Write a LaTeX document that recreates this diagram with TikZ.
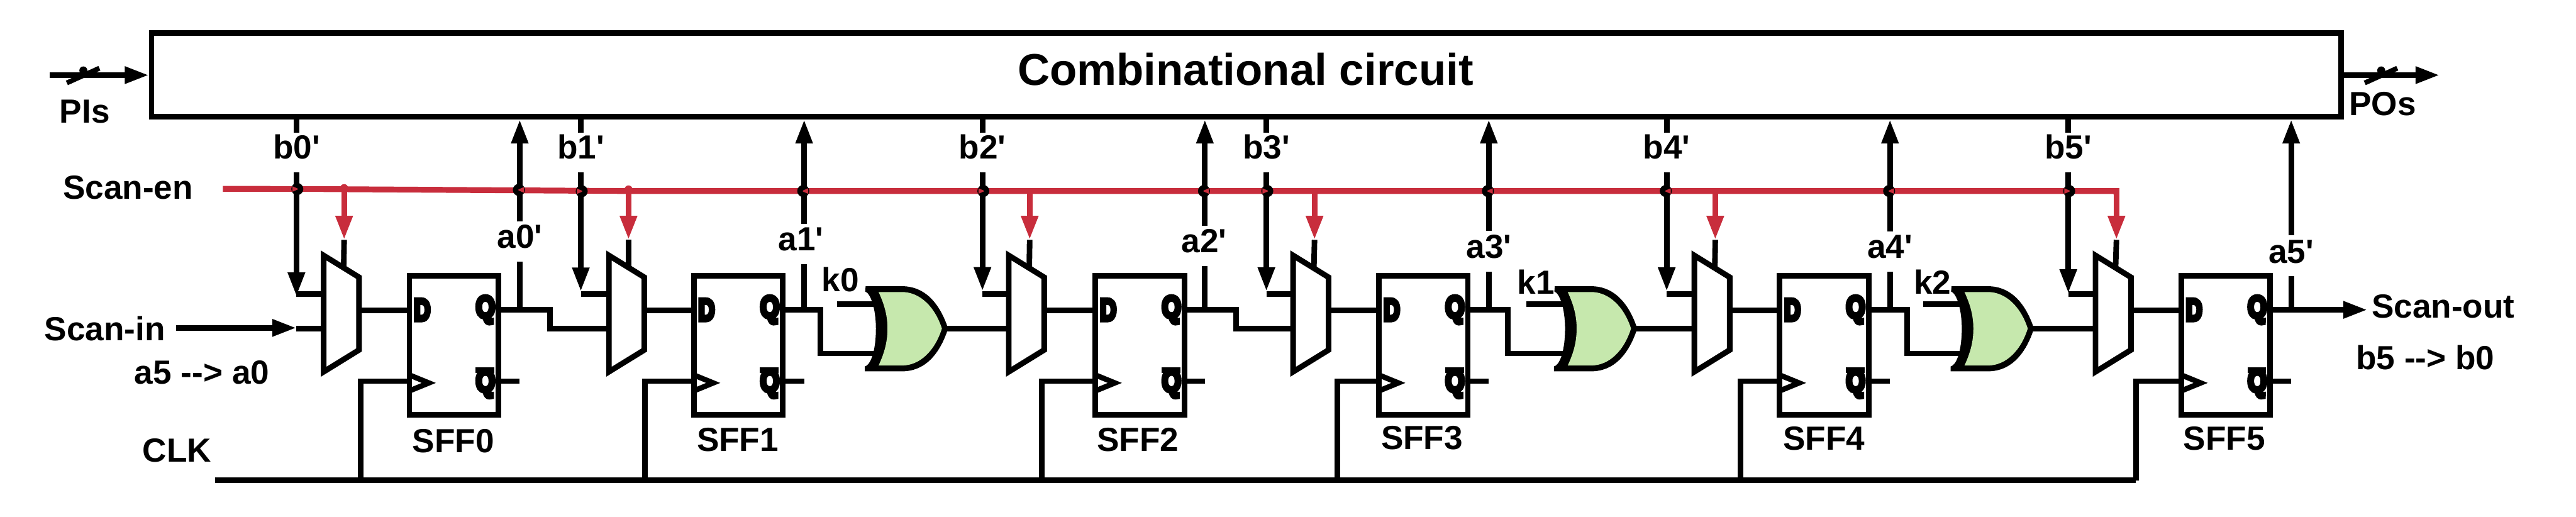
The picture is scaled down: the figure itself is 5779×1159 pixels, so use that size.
\documentclass[tikz,border=0pt]{standalone}
\usepackage{graphicx}
\usepackage{fontspec}
\setmainfont{Liberation Sans}
\newfontface\labface{Liberation Sans Bold}
\newfontface\heavyface[FakeBold=14]{Liberation Sans Bold}
\usetikzlibrary{arrows.meta,calc}
\definecolor{scanred}{HTML}{C82D3C}
\definecolor{orgreen}{HTML}{C6E8AD}
\newcommand{\pinD}{\scalebox{.74}[1]{\fontsize{68}{70}\heavyface D}}
\newcommand{\pinQ}{\scalebox{.8}[1]{\fontsize{68}{70}\heavyface Q}}
\tikzset{
  wire/.style={line width=12.5pt,black,line cap=butt,line join=miter},
  enwire/.style={line width=13pt,scanred,line cap=butt},
  tipa/.style={-{Triangle[length=54pt,width=36pt]}},
  lab/.style={inner sep=0pt,font=\fontsize{75}{82}\labface},
  pin/.style={inner sep=0pt},
  blockbox/.style={draw=black,line width=12.5pt,fill=white,inner sep=0pt},
  muxshape/.style={draw=black,line width=12.5pt,fill=white,line join=miter,miter limit=10},
  orgate/.pic={
    \fill[black] (1942,642) -- (2023,642) .. controls (2075,642) and (2108,680) .. (2127,737)
      .. controls (2108,795) and (2075,833) .. (2023,833) -- (1940,833) -- (1940,822)
      .. controls (1952,820) and (1965,790) .. (1965,737)
      .. controls (1965,690) and (1952,657) .. (1941,654) -- cycle;
    \fill[orgreen] (1971,655) -- (2023,655) .. controls (2065,655) and (2098,690) .. (2113,737)
      .. controls (2098,785) and (2065,820) .. (2023,820) -- (1971,820)
      .. controls (1985,790) and (1991,765) .. (1991,737)
      .. controls (1991,710) and (1985,685) .. (1971,655) -- cycle;
    \coordinate (-ina) at (1960,682);
    \coordinate (-inb) at (1960,793);
    \coordinate (-out) at (2125,737);
  }
}
\begin{document}
\begin{tikzpicture}[x=1pt,y=-1pt]
\useasboundingbox (0,0) rectangle (5779,1159);

% combinational block
\node[blockbox,minimum width=4912pt,minimum height=188pt,outer sep=0pt] (cc) at (2796,168) {};
\node[lab,font=\fontsize{100}{110}\labface] (cctext) at (2794,155) {Combinational circuit};

% side labels and free ends
\coordinate (pistart) at (112,168.5);
\coordinate (pitip) at (334,168.5);
\coordinate (pitipb) at (5473,168.5);
\coordinate (pobase) at (5258,168.5);
\draw[wire,tipa] (pistart) -- (pitip);
\draw[wire,tipa] (pobase) -- (pitipb);
\foreach \d in {0,5155}{
  \draw[wire,line width=11pt] (150+\d,186) -- (223+\d,153);
  \fill (187+\d,158) circle (9pt);
}
\node[lab] (pis) at (190,251) {PIs};
\node[lab] (pos) at (5345,233) {POs};
\node[lab] (scanen) at (287,421) {Scan-en};
\node[lab] (scanin) at (235,737) {Scan-in};
\node[lab] (noteA) at (453,835) {a5 --> a0};
\node[lab] (clk) at (397,1010) {CLK};
\node[lab] (scanout) at (5481,687) {Scan-out};
\node[lab] (noteB) at (5441,802) {b5 --> b0};

% scan-enable rail
\coordinate (enA) at (500,423.5);
\coordinate (enB) at (700,424);
\coordinate (enC) at (1400,428.5);
\coordinate (enD) at (4748,428.5);
\draw[enwire,line join=miter] (enA) -- (enB) -- (enC) -- (enD) -- ++(0,8);
\foreach \i/\rx/\ry in {0/772/425,1/1410/428.5,2/2310/428.5,3/2949/428.5,4/3848/428.5,5/4748/428.5}{
  \coordinate (enT\i) at (\rx,\ry);
  \coordinate (enH\i) at (\rx,538);
  \draw[enwire,-{Triangle[length=54pt,width=36pt]}] (enT\i) -- (enH\i);
}
\fill[scanred] (772,422) circle (9pt);
\fill[scanred] (1410,425) circle (9pt);

% clock rail
\coordinate (clkA) at (483,1077.5);
\coordinate (clkB) at (4792,1077.5);

% cells
\foreach \i/\bx/\btip/\rx/\mx/\sx/\cx/\axx/\agt/\agb/\alx/\aly/\slx/\sly in {
  0/665/665/771/719/912/809.5/1166/497/587/1166/531/1017/989,
  1/1303/654/1410/1359/1550/1447/1804/502/593/1797/537/1655/987,
  2/2204/653/2309/2256/2451/2337/2703/507/597/2701/541/2553/987,
  3/2841/653.5/2947.5/2894/3087/3000/3340/518/609/3340/553/3190/983,
  4/3739/653.5/3847/3794/3986/3905/4240/519/610/4240/554/4092/983,
  5/4640/658/4746/4694/4887/4792/5140/528/619/5140/565/4990/983}{
  % flip-flop
  \node[blockbox,minimum width=199.5pt,minimum height=312pt,outer sep=0pt,anchor=north west] (sff\i) at (\sx+6.5,619) {};
  \node[lab] (sfflab\i) at (\slx,\sly) {SFF\i};
  \node[pin] (pinD\i) at (\sx+35,695) {\pinD};
  \node[pin] (pinQ\i) at (\sx+177,695) {\pinQ};
  \node[pin] (pinN\i) at (\sx+177,861) {\pinQ};
  \fill[black] (\sx+155,824) rectangle (\sx+197,837);
  \draw[wire,line width=12pt] (\sx+6,841) -- (\sx+50,859) -- (\sx+6,877);
  % connector anchors
  \coordinate (muxA\i) at (\mx+7,660);
  \coordinate (muxB\i) at (\mx+7,737.5);
  \coordinate (muxO\i) at (\mx+86.5,696);
  \coordinate (muxS\i) at (\rx,{573+(\rx-\mx-7)*0.62});
  \coordinate (dIn\i) at (sff\i.west |- muxO\i);
  \coordinate (qOut\i) at (\sx+206,695);
  \coordinate (aQ\i) at (\axx,695);
  \coordinate (aLo\i) at (\axx,\agb);
  \coordinate (aHi\i) at (\axx,\agt);
  \coordinate (aTip\i) at (\axx,268);
  \coordinate (nOut\i) at (\sx+206,855);
  \coordinate (nEnd\i) at (\axx,855);
  \coordinate (ckIn\i) at (\sx+6.5,855);
  \coordinate (ckUp\i) at (\cx,855);
  \coordinate (ckDn\i) at (\cx,1077.5);
  \coordinate (bTop\i) at (\bx,268);
  \coordinate (bHi\i) at (\bx,297);
  \coordinate (bLo\i) at (\bx,387);
  \coordinate (bTip\i) at (\bx,\btip);
  \coordinate (bSt\i) at (\bx,660);
  % connectors
  \draw[wire] (bTop\i) -- (bHi\i);
  \draw[wire,tipa] (bLo\i) -- (bTip\i);
  \draw[wire] (bSt\i) -- (muxA\i);
  \draw[wire] (enH\i) -- (muxS\i);
  \draw[wire] (aQ\i) -- (aLo\i);
  \draw[wire,tipa] (aHi\i) -- (aTip\i);
  \draw[wire] (nOut\i) -- (nEnd\i);
  \draw[wire] (ckDn\i) -- (ckUp\i) -- (ckIn\i);
  \draw[wire] (muxO\i) -- (dIn\i);
  % mux
  \filldraw[muxshape] (\mx+7,573) -- (\mx+86.5,622) -- (\mx+86.5,785) -- (\mx+7,834) -- cycle;
  % labels
  \node[lab] (blab\i) at (\bx,330) {b\i'};
  \node[lab] (alab\i) at (\alx,\aly) {a\i'};
}
\draw[wire] (clkA) -- (clkB);

% rail crossings
\foreach \x/\y/\s in {665/424/1,1166/426/-1,1303/429/1,1804/428.5/-1,2204/428.5/1,2703/428.5/-1,
    2841/428.5/1,3340/428.5/-1,3739/428.5/-1,4240/428.5/-1,4640/428.5/1}{
  \draw[wire] (\x,\y-25) -- (\x,\y+25);
  \fill[black] (\x+2*\s,\y) circle (13.5pt);
  \fill[scanred] (\x-9*\s,\y-6.2) -- (\x+3*\s,\y-1) -- (\x+3*\s,\y+1) -- (\x-9*\s,\y+6.2) -- cycle;
}

% scan path between cells
\coordinate (siA) at (395,735.5);
\coordinate (siB) at (665,735.5);
\draw[wire,tipa] (siA) -- (siB);
\coordinate (siC) at (665,737.5);
\draw[wire] (siC) -- (muxB0);
\draw[wire] (qOut0) -- (1234,695) -- (1234,737.5) -- (muxB1);
\draw[wire] (qOut2) -- (2773,695) -- (2773,737.5) -- (muxB3);

% xor/or gates
\pic (ora) at (0,0) {orgate};
\pic (orb) at (1546,0) {orgate};
\pic (orc) at (2436,0) {orgate};
\node[lab] (k0) at (1885,627) {k0};
\node[lab] (k1) at (3446,632) {k1};
\node[lab] (k2) at (4335,633) {k2};
\coordinate (kaS) at (1878,682);
\coordinate (kbS) at (3424,682);
\coordinate (kcS) at (4314,682);
\draw[wire] (kaS) -- (ora-ina);
\draw[wire] (kbS) -- (orb-ina);
\draw[wire] (kcS) -- (orc-ina);
\draw[wire] (qOut1) -- (1841,695) -- (1841,793) -- (ora-inb);
\draw[wire] (qOut3) -- (3383,695) -- (3383,793) -- (orb-inb);
\draw[wire] (qOut4) -- (4278,695) -- (4278,793) -- (orc-inb);
\coordinate (m2) at (muxB2 |- ora-out);
\coordinate (m4) at (muxB4 |- orb-out);
\coordinate (m5) at (muxB5 |- orc-out);
\draw[wire] (ora-out) -- (m2);
\draw[wire] (orb-out) -- (m4);
\draw[wire] (orc-out) -- (m5);
\coordinate (soTip) at (5311,695);
\draw[wire,tipa] (qOut5) -- (soTip);
\end{tikzpicture}
\end{document}
